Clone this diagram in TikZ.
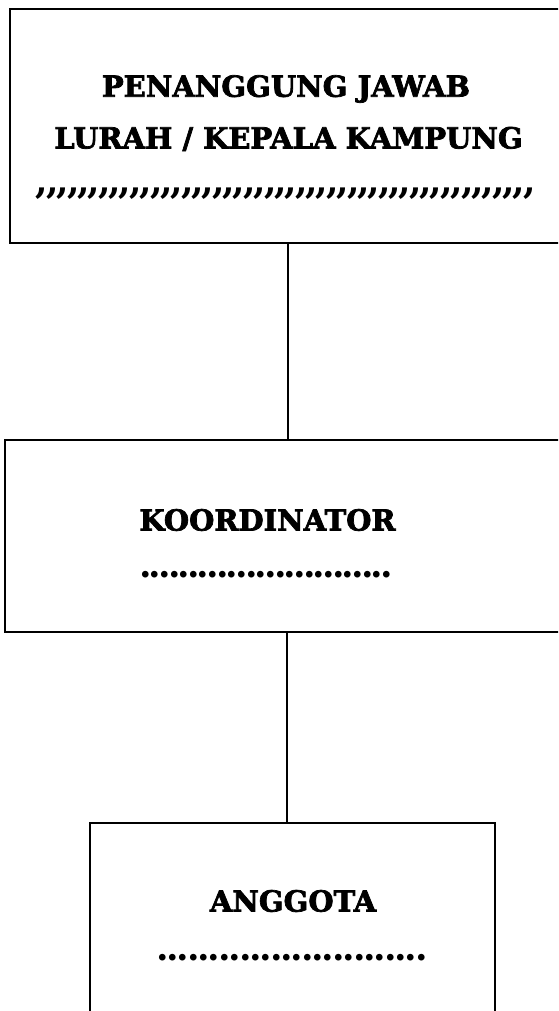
\documentclass[tikz,border=0pt]{standalone}
\usepackage{fontspec}
\setmainfont{DejaVu Serif}[Ligatures=TeXOff]
\usetikzlibrary{positioning}

\tikzset{
  orgbox/.style={draw, line width=1.8pt, fill=white, inner sep=0pt},
  title/.style={font=\fontsize{29}{34}\selectfont\bfseries\addfontfeature{FakeBold=2.5}, inner sep=0pt},
  dotline/.style={font=\fontsize{36}{40}\selectfont\bfseries\addfontfeature{LetterSpace=#1}, inner sep=0pt},
  dotline/.default=-8,
  link/.style={line width=1.4pt}
}

\begin{document}
\begin{tikzpicture}[x=1pt, y=-1pt]
  \useasboundingbox (0,0) rectangle (558,1011);
  \clip (0,0) rectangle (558,1011);
  \fill[white] (0,0) rectangle (558,1011);
  % boxes
  \node[orgbox, minimum width=556pt, minimum height=234pt] (pj) at (288,126) {};
  \node[orgbox, minimum width=561pt, minimum height=192pt] (koord) at (285.5,536) {};
  \node[orgbox, minimum width=405pt, minimum height=210pt] (ang) at (292.5,928) {};
  % texts
  \node[title] (pjA) at (286,89) {PENANGGUNG JAWAB};
  \node[title] (pjB) at (288.5,139) {LURAH / KEPALA KAMPUNG};
  \node[dotline=-6] (pjC) at (286,194) {,,,,,,,,,,,,,,,,,,,,,,,,,,,,,,,,,,,,,,,,,,,,,,,,};
  \node[title] (koordA) at (267.5,520) {KOORDINATOR};
  \node[dotline] (koordB) at (266,575) {..........................};
  \node[title] (angA) at (293,901) {ANGGOTA};
  \node[dotline=-6] (angB) at (292,958) {..........................};
  % connectors
  \draw[link] (pj.south) -- (pj.south |- koord.north);
  \draw[link] (koord.south -| 287,0) -- (ang.north -| 287,0);
\end{tikzpicture}
\end{document}
